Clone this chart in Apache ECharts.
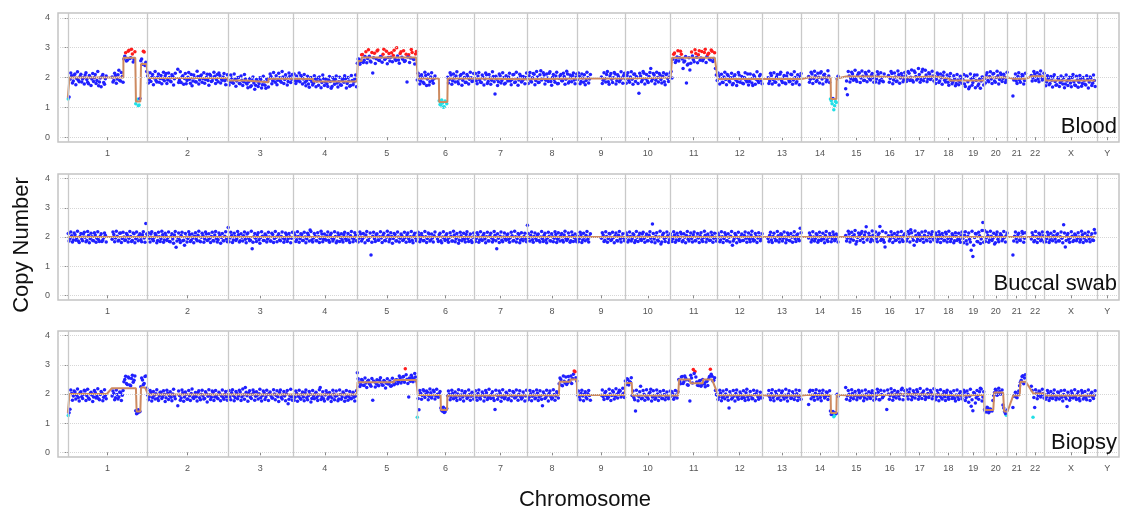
<!DOCTYPE html>
<html>
<head>
<meta charset="utf-8">
<script src="https://cdn.jsdelivr.net/npm/echarts@6/dist/echarts.min.js"></script>
<style>
  html, body { margin: 0; padding: 0; background: #fff; }
  #chart { width: 1125px; height: 512px; }
</style>
</head>
<body>
<div id="chart"></div>
<script>
// chromosome names and widths (Mb, as laid out on the x axis)
const chromNames = ['1','2','3','4','5','6','7','8','9','10','11','12','13','14','15','16','17','18','19','20','21','22','X','Y'];
const chromLen = [234,238,192,189,177,169,156,148,141,135,136,135,115,109,106,91,86,83,64,69,54,55,156,58];
const yTicks = [0, 1, 2, 3, 4];
const panelNames = ['Blood', 'Buccal swab', 'Biopsy'];

// copy number, two probes per ~5 Mb bin (A then B), one list per chromosome (null = no data)
const bloodA = [
  [1.28,1.94,2.06,1.88,2.12,1.97,1.91,2.03,1.85,1.99,2.08,1.93,1.79,2.01,1.95,1.87,2.1,1.9,1.72,1.98,2.04,1.83,1.96,null,null,null,2.02,1.9,2.07,1.95,2.24,1.88,2.03,2.62,2.83,2.58,2.91,2.66,2.79,2.6,1.12,1.27,1.08,2.56,2.44,2.85,2.51],
  [2.05,1.93,1.87,2.1,1.98,1.9,2.02,1.84,2.07,1.95,1.89,2.13,1.92,2.0,1.86,2.04,1.96,null,2.28,1.91,1.83,2.06,1.97,1.79,2.01,1.94,2.1,1.88,1.99,1.85,2.03,1.92,2.08,1.96,1.81,2.0,1.9,2.11,1.87,1.98,2.04,1.93,1.86,2.07,1.95,2.02,1.89,1.97],
  [1.92,1.85,1.98,1.81,1.94,1.88,2.0,1.79,1.91,1.86,1.95,1.78,1.86,1.69,1.9,1.82,1.74,1.88,1.8,1.93,1.76,1.85,1.64,1.87,1.97,2.03,1.89,1.95,2.06,1.91,1.99,1.84,2.02,1.93,1.98,1.87,2.04,1.94],
  [1.98,1.9,2.05,1.93,1.86,2.01,1.95,1.84,1.9,1.78,1.93,1.86,1.81,1.95,1.88,1.74,1.91,1.83,1.97,1.85,1.79,1.92,1.87,1.7,1.89,1.94,1.82,1.86,1.76,1.91,1.84,1.96,1.8,1.88,1.73,1.9,1.85,2.08],
  [2.48,2.61,2.53,2.77,2.58,2.86,2.64,2.71,2.52,2.15,2.81,2.63,2.92,2.57,2.69,2.78,2.6,2.88,2.67,2.55,2.83,2.74,2.62,3.0,2.59,2.8,2.68,2.9,2.56,1.85,2.76,2.65,2.84,2.6,2.79],
  [1.92,2.04,1.88,1.99,1.8,2.07,1.95,1.75,2.02,1.9,1.97,null,null,1.22,1.08,1.15,1.02,1.18,2.01,1.93,2.08,1.89,1.98,2.05,1.86,1.96,2.1,1.91,2.0,1.84,2.03,1.94,1.99,1.88],
  [1.97,1.89,2.05,1.92,1.83,2.0,1.95,2.09,1.87,1.98,1.91,2.03,1.45,1.94,1.86,2.06,1.9,1.99,1.81,1.96,2.02,1.88,1.93,2.1,1.85,1.97,1.92,2.04,1.89,1.95,2.0],
  [1.95,2.06,1.88,1.99,2.11,1.9,2.02,1.84,2.23,1.96,2.08,1.91,1.98,2.14,1.87,2.0,1.93,2.05,1.79,1.97,2.1,1.89,2.03,1.94,2.12,1.86,1.99,2.07,1.92,2.01],
  [1.93,2.04,1.87,1.98,2.09,1.9,2.0,1.95,null,null,null,null,null,null,2.02,1.91,1.97,2.1,1.86,2.05,1.94,1.99,2.12,1.89,2.03,1.92,1.98,2.07],
  [1.96,2.07,1.9,2.02,1.94,2.11,1.87,1.99,1.47,2.05,1.92,2.14,1.96,1.88,2.03,2.3,1.95,2.08,1.91,2.0,2.13,1.93,2.04,1.86,2.1,1.97,2.02],
  [2.2,2.61,2.82,2.57,2.9,2.66,2.78,2.3,2.55,1.82,2.45,2.25,2.85,2.6,2.93,2.68,2.76,2.58,2.87,2.63,2.95,2.7,2.81,2.59,2.88,2.64,2.3],
  [1.9,2.06,1.97,1.84,2.02,1.93,2.1,1.88,1.99,1.76,2.04,1.92,1.86,2.08,1.95,1.81,2.0,1.91,2.12,1.87,1.96,1.73,2.03,1.94,1.89,2.05,1.9],
  [null,null,null,1.99,1.88,2.07,1.93,1.85,2.02,1.96,2.11,1.9,1.98,1.82,2.05,1.94,1.87,2.09,1.92,2.0,1.86,1.97,2.03],
  [null,null,null,null,2.03,1.94,2.12,1.97,2.06,1.9,2.01,2.15,1.95,2.08,1.99,1.92,2.05,1.28,1.12,0.92,1.2,1.96],
  [null,null,null,null,1.62,1.42,2.05,1.97,2.12,2.0,1.93,2.08,2.15,1.98,2.04,1.91,2.1,2.02,1.95,2.07,1.99],
  [2.04,1.95,2.1,1.9,2.0,1.86,null,null,2.07,1.97,2.13,1.92,2.02,1.88,2.09,1.98,2.05,1.93],
  [2.06,1.96,2.14,2.01,1.9,2.22,2.03,1.97,2.1,1.93,2.28,2.0,2.08,1.95,2.12,1.99,2.05],
  [2.03,1.94,2.1,1.88,1.99,2.06,1.91,1.97,1.84,2.02,1.9,1.86,1.95,1.8,1.92,1.87,1.97],
  [1.93,1.78,2.05,1.86,1.68,1.97,1.83,2.08,1.9,1.72,1.95,1.88,2.01],
  [1.97,2.08,1.9,2.03,1.95,2.12,1.88,2.0,2.06,1.93,2.1,1.97,2.02,1.91],
  [null,null,null,1.38,1.97,1.88,2.04,1.92,1.99,2.06,1.9],
  [null,null,null,2.07,1.98,2.12,2.03,1.95,2.09,2.01,1.94],
  [1.93,1.85,1.97,1.8,1.91,2.02,1.87,1.76,1.95,1.83,1.9,1.99,1.78,1.88,1.94,1.82,2.0,1.86,1.73,1.92,1.84,1.96,1.8,1.89,1.75,1.93,1.85,1.98,1.81,1.9,null],
  []
];
const bloodB = [
  [1.35,2.15,1.82,2.08,1.76,2.19,1.86,2.11,1.95,1.78,2.16,1.84,2.07,1.73,2.13,1.99,1.8,2.2,1.85,1.69,2.1,1.77,2.05,null,null,null,1.85,2.14,1.81,2.09,1.9,2.17,1.84,2.71,2.55,2.88,2.64,2.95,2.52,2.86,1.25,1.05,1.3,2.62,2.88,2.4,2.2],
  [1.82,2.16,2.01,1.76,2.2,1.85,2.12,1.97,1.79,2.18,2.06,1.8,2.15,1.88,2.09,1.75,2.14,null,1.83,2.19,2.02,1.77,2.13,1.9,2.17,1.81,1.72,2.08,1.86,2.21,1.78,2.05,1.84,2.16,1.93,2.11,1.74,2.07,1.89,2.18,1.8,2.1,2.15,1.82,1.91,2.13,1.76,2.09],
  [1.75,2.08,1.83,2.12,1.71,1.99,1.8,2.05,1.73,2.1,1.82,1.66,1.97,1.72,2.02,1.61,1.93,1.7,1.99,1.65,2.04,1.74,1.95,1.68,2.12,1.79,2.17,1.84,1.76,2.14,1.88,2.2,1.8,2.09,1.75,2.15,1.83,2.1],
  [2.12,1.8,1.88,2.15,2.07,1.78,2.1,1.72,2.04,1.67,2.0,1.75,2.06,1.69,1.98,2.02,1.66,2.08,1.73,1.95,1.7,2.03,1.64,1.99,1.77,2.05,1.68,2.01,1.74,1.97,2.06,1.65,2.0,1.71,2.07,1.76,1.95,1.69],
  [2.62,2.44,2.76,2.5,2.7,2.49,2.93,2.55,2.84,2.66,2.47,2.89,2.58,2.7,2.51,2.95,2.64,2.46,2.8,2.68,2.53,2.91,2.57,2.72,2.48,2.86,2.61,2.54,2.78,2.69,2.5,2.94,2.63,2.45,2.87],
  [2.14,1.78,2.09,1.84,2.18,1.73,2.11,1.86,2.16,1.81,2.05,null,null,1.1,1.25,1.0,1.21,1.12,1.82,2.16,1.77,2.12,1.85,2.19,1.79,2.07,1.74,2.15,1.83,2.1,1.78,2.18,1.87,2.13],
  [2.13,1.79,2.17,1.84,2.08,1.75,2.15,1.8,2.1,1.77,2.19,1.86,2.04,1.73,2.12,1.82,2.16,1.78,2.06,1.88,2.14,1.76,2.09,1.83,2.18,1.74,2.11,1.85,2.03,1.79,2.15],
  [1.8,2.17,1.85,2.13,1.76,2.2,1.83,2.09,1.92,2.16,1.78,2.12,1.87,2.19,1.74,2.1,1.84,2.18,1.8,2.06,1.89,2.14,1.77,2.21,1.82,2.08,1.86,2.15,1.79,2.12],
  [2.15,1.79,2.12,1.84,1.76,2.18,1.82,2.1,null,null,null,null,null,null,1.8,2.16,1.85,2.2,1.77,2.13,1.83,2.17,1.78,2.09,1.86,2.19,1.81,2.14],
  [1.81,2.16,1.84,2.19,1.77,2.12,2.03,1.8,2.14,1.86,2.2,1.78,2.1,1.83,2.17,1.88,2.13,1.79,2.18,1.85,2.08,1.82,2.16,1.76,2.12,1.87,2.15],
  [1.98,2.78,2.5,2.69,2.55,2.88,2.62,2.52,2.7,2.42,2.66,2.48,2.72,2.53,2.8,2.49,2.9,2.65,2.56,2.84,2.5,2.77,2.61,2.92,2.54,2.83,2.08],
  [2.15,1.78,2.11,1.83,2.18,1.76,2.06,1.85,2.14,1.8,2.09,1.73,2.17,1.84,2.03,1.79,2.16,1.86,1.75,2.12,1.82,2.08,1.77,2.19,1.83,2.1,1.79],
  [null,null,null,1.8,2.14,1.78,2.16,1.84,2.1,1.75,2.18,1.83,2.07,1.79,2.15,1.86,2.11,1.77,2.19,1.82,2.09,1.76,2.13],
  [null,null,null,null,1.84,2.18,1.8,2.21,1.87,2.14,1.82,2.19,1.78,2.11,1.86,2.23,1.83,1.22,1.3,1.05,1.16,2.04],
  [null,null,null,null,1.88,2.2,1.85,2.18,1.91,2.24,1.87,2.15,1.83,2.22,1.9,2.17,1.86,2.21,1.92,2.13,1.84],
  [1.85,2.19,1.82,2.16,1.88,2.12,null,null,1.84,2.2,1.79,2.15,1.87,2.22,1.81,2.13,1.86,2.17],
  [1.87,2.2,1.9,2.25,1.85,2.17,1.92,2.3,1.84,2.19,1.89,2.24,1.86,2.16,1.93,2.21,1.88],
  [1.8,2.15,1.83,2.12,1.77,2.18,1.85,2.08,1.74,2.13,1.79,2.06,1.72,2.1,1.76,2.04,1.81],
  [2.1,1.7,2.04,1.62,2.12,1.74,2.0,1.66,2.08,1.78,1.64,2.02,1.75],
  [1.82,2.16,1.86,2.19,1.8,2.13,1.84,2.21,1.78,2.15,1.87,2.11,1.83,2.18],
  [null,null,null,1.92,2.12,1.8,2.16,1.84,2.1,1.78,2.14],
  [null,null,null,1.88,2.2,1.9,2.16,1.86,2.22,1.92,2.14],
  [1.72,2.06,1.76,2.03,1.68,2.09,1.74,1.99,1.7,2.05,1.78,1.66,2.08,1.73,2.01,1.69,2.1,1.75,2.04,1.67,2.07,1.71,2.0,1.77,2.06,1.65,2.02,1.73,2.08,1.7,null],
  []
];

const buccalA = [
  [2.12,1.95,2.04,1.9,2.08,1.97,1.86,2.02,1.93,2.1,1.99,1.88,2.05,1.94,2.01,1.87,2.07,1.96,1.91,2.03,1.85,1.98,2.06,null,null,null,1.92,2.09,1.97,2.03,1.89,2.14,1.95,2.0,1.9,2.07,1.96,2.02,1.88,2.11,1.94,1.99,2.05,1.91,2.08,1.97,2.46],
  [2.03,1.96,2.1,1.92,1.99,2.06,1.88,2.01,1.94,2.08,1.9,2.04,1.97,1.85,2.02,1.93,2.07,1.65,1.98,1.91,2.05,1.87,1.72,2.0,1.95,2.09,1.89,1.97,2.03,1.92,2.06,1.86,1.99,2.04,1.93,2.1,1.9,1.96,2.02,1.88,2.07,1.95,1.91,2.05,1.98,1.87,2.03,1.94],
  [2.33,1.97,2.05,1.9,2.02,1.94,2.08,1.87,1.99,2.04,1.92,2.1,1.95,1.89,1.6,2.01,1.96,2.07,1.91,1.98,2.03,1.88,2.06,1.93,2.0,1.86,2.09,1.95,1.99,2.04,1.9,2.02,1.97,1.92,2.08,1.94,2.01,1.96],
  [1.98,2.05,1.91,2.02,1.95,2.09,1.88,2.0,1.94,2.06,2.24,1.9,1.97,2.03,1.87,2.01,1.95,2.1,1.92,1.99,2.04,1.89,2.07,1.96,1.93,2.02,1.86,2.05,1.98,1.91,2.08,1.95,2.0,1.9,2.04,1.97,1.93,2.06],
  [2.04,1.96,2.1,1.93,2.0,2.07,1.89,1.98,1.38,2.03,1.94,2.08,1.9,2.01,1.97,2.05,1.88,1.99,2.06,1.92,2.02,1.95,2.09,1.87,2.0,1.96,2.04,1.91,1.98,2.07,1.93,2.01,1.89,2.05,1.97],
  [1.99,2.06,1.92,2.03,1.88,2.01,1.95,2.1,1.9,1.97,2.04,null,1.93,2.08,1.87,2.0,1.96,2.05,1.91,1.98,2.03,1.86,2.07,1.94,2.0,1.89,2.04,1.97,1.92,2.09,1.95,2.01,1.88,1.99],
  [2.02,1.95,2.08,1.9,1.99,2.05,1.93,2.01,1.87,2.04,1.97,1.91,2.06,1.6,1.96,2.03,1.89,2.0,1.94,2.07,1.92,1.98,2.04,1.88,2.01,1.95,2.09,1.9,1.97,2.02,1.93],
  [2.4,1.98,2.05,1.91,2.02,1.95,2.08,1.88,2.0,1.94,2.06,1.9,1.97,2.03,1.86,2.01,1.96,2.09,1.92,1.99,2.04,1.89,2.07,1.95,1.93,2.02,1.87,2.05,1.98,1.91],
  [2.03,1.94,2.08,1.9,1.99,2.05,1.92,2.01,null,null,null,null,null,null,1.96,2.07,1.89,2.02,1.95,2.1,1.91,1.98,2.04,1.88,2.06,1.93,2.0,1.97],
  [1.97,2.05,1.9,2.02,1.94,2.08,1.88,1.99,2.04,1.92,2.1,1.95,2.01,1.87,2.06,1.96,2.45,1.93,2.03,1.89,2.0,1.76,2.07,1.95,1.98,2.04,1.91],
  [2.01,1.94,2.07,1.9,2.03,1.96,2.1,1.88,1.99,2.05,1.92,2.02,1.95,2.08,1.87,2.0,1.97,2.04,1.91,1.98,2.06,1.93,2.01,1.89,2.05,1.96,1.99],
  [1.96,2.04,1.9,2.01,1.95,2.08,1.87,1.99,2.03,1.72,1.93,2.06,1.98,1.91,2.02,1.88,2.05,1.96,2.0,1.92,2.07,1.94,1.89,2.03,1.97,2.01,1.93],
  [null,null,null,1.95,2.06,1.9,2.02,1.97,1.88,2.04,1.93,2.09,1.96,2.0,1.91,2.05,1.87,1.99,2.03,1.94,2.07,1.92,2.3],
  [null,null,null,null,1.97,2.04,1.91,2.0,1.95,2.07,1.89,2.02,1.96,1.93,2.05,1.9,1.99,2.03,1.94,2.08,1.92,2.01],
  [null,null,null,null,2.05,1.96,2.1,1.93,2.02,2.08,1.76,1.98,2.04,2.12,1.95,2.07,2.35,1.99,2.03,1.92,2.06],
  [2.02,1.95,2.08,2.36,1.97,1.9,1.66,null,2.04,1.93,2.07,1.98,1.88,2.05,1.96,2.01,1.91,2.06],
  [2.03,1.96,2.1,2.25,1.99,1.72,2.05,1.93,2.08,2.0,1.95,2.06,1.9,2.02,1.97,2.09,1.94],
  [1.98,2.05,1.92,2.08,1.96,2.02,1.89,2.1,1.95,2.0,1.93,2.06,1.87,2.03,1.97,1.91,2.04],
  [1.95,2.06,1.87,2.02,1.92,1.55,1.33,1.98,2.1,1.84,2.04,1.93,2.5],
  [2.22,1.97,2.05,1.9,2.03,1.96,1.76,2.08,1.92,2.01,2.06,1.94,1.99,2.04],
  [null,null,null,1.38,2.03,1.94,2.08,1.9,2.0,2.12,1.96],
  [null,null,null,1.93,2.05,1.88,2.02,1.96,2.09,1.91,2.04],
  [2.02,1.95,2.07,1.9,1.99,2.04,1.93,2.08,1.87,2.01,1.96,2.42,1.66,2.05,1.92,1.98,2.03,1.89,2.06,1.95,2.0,1.91,2.08,1.97,1.88,2.04,1.94,2.01,1.9,2.26,null],
  []
];
const buccalB = [
  [1.86,2.17,1.83,2.14,1.89,2.2,1.81,2.12,1.87,2.16,1.84,2.19,1.8,2.13,1.88,2.15,1.82,2.18,1.85,2.11,1.9,2.14,1.83,null,null,null,2.17,1.84,2.2,1.86,2.13,1.81,2.16,1.88,2.12,1.83,2.19,1.85,2.14,1.8,2.17,1.87,2.11,1.84,2.18,1.82,2.1],
  [2.15,1.83,2.18,1.87,2.12,1.8,2.16,1.85,2.2,1.82,2.13,1.88,2.17,1.84,2.11,1.79,2.19,1.86,2.14,1.81,2.16,1.89,2.12,1.83,2.18,1.85,2.1,1.8,2.15,1.87,2.2,1.84,2.13,1.82,2.17,1.88,2.11,1.81,2.16,1.86,2.19,1.83,2.14,1.79,2.12,1.87,2.18,1.84],
  [1.84,2.16,1.81,2.13,1.88,2.19,1.83,2.11,1.86,2.17,1.8,2.14,1.87,2.2,1.82,2.12,1.85,2.15,1.79,2.18,1.88,2.1,1.83,2.16,1.86,2.13,1.81,2.19,1.84,2.11,1.87,2.17,1.82,2.14,1.85,2.12,1.8,2.16],
  [2.14,1.85,2.18,1.82,2.11,1.88,2.16,1.8,2.13,1.86,2.19,1.83,2.12,1.87,2.15,1.81,2.2,1.84,2.1,1.89,2.17,1.82,2.13,1.86,2.18,1.8,2.14,1.85,2.11,1.83,2.16,1.88,2.12,1.81,2.19,1.84,2.15,1.87],
  [1.83,2.17,1.86,2.12,1.8,2.19,1.88,2.14,1.82,2.16,1.85,2.11,1.89,2.18,1.81,2.13,1.87,2.2,1.84,2.15,1.79,2.12,1.86,2.17,1.83,2.1,1.88,2.16,1.82,2.14,1.85,2.19,1.8,2.13,1.87],
  [2.16,1.84,2.12,1.87,2.19,1.81,2.14,1.86,2.1,1.83,2.17,null,1.85,2.13,1.8,2.18,1.88,2.11,1.82,2.15,1.86,2.2,1.84,2.12,1.79,2.16,1.87,2.13,1.83,2.18,1.85,2.1,1.81,2.14],
  [1.85,2.15,1.82,2.18,1.88,2.12,1.8,2.16,1.86,2.13,1.83,2.19,1.87,2.11,1.81,2.17,1.84,2.14,1.89,2.1,1.82,2.16,1.86,2.2,1.83,2.12,1.8,2.15,1.87,2.13,1.84],
  [2.12,1.86,2.17,1.82,2.14,1.88,2.1,1.83,2.19,1.85,2.13,1.8,2.16,1.87,2.11,1.84,2.18,1.81,2.15,1.86,2.12,1.83,2.2,1.88,2.14,1.82,2.17,1.85,2.1,1.84],
  [1.84,2.16,1.81,2.13,1.87,2.19,1.83,2.11,null,null,null,null,null,null,2.15,1.85,2.18,1.82,2.12,1.88,2.16,1.8,2.14,1.86,2.19,1.83,2.11,1.87],
  [2.14,1.83,2.17,1.86,2.11,1.81,2.19,1.85,2.13,1.88,2.16,1.82,2.1,1.87,2.18,1.84,2.12,1.8,2.15,1.86,2.2,1.83,2.13,1.85,2.17,1.81,2.11],
  [1.85,2.18,1.82,2.13,1.88,2.16,1.84,2.11,1.8,2.19,1.86,2.14,1.83,2.17,1.87,2.12,1.81,2.15,1.85,2.2,1.83,2.1,1.88,2.16,1.82,2.13,1.86],
  [2.13,1.84,2.18,1.81,2.15,1.87,2.11,1.83,2.19,1.86,2.12,1.8,2.16,1.85,2.1,1.88,2.17,1.82,2.14,1.84,2.2,1.86,2.12,1.81,2.15,1.87,2.11],
  [null,null,null,1.84,2.16,1.81,2.13,1.87,2.19,1.83,2.11,1.86,2.17,1.8,2.14,1.88,2.12,1.82,2.18,1.85,2.1,1.87,2.15],
  [null,null,null,null,2.14,1.83,2.18,1.86,2.11,1.82,2.16,1.88,2.13,1.8,2.19,1.85,2.12,1.84,2.17,1.87,2.1,1.83],
  [null,null,null,null,1.86,2.2,1.83,2.16,1.89,2.22,1.85,2.14,1.88,2.19,1.82,2.17,1.9,2.13,1.84,2.21,1.87],
  [2.17,1.84,2.13,1.88,2.2,1.82,2.15,null,1.86,2.18,1.81,2.12,1.89,2.16,1.83,2.19,1.85,2.11],
  [1.86,2.19,1.83,2.15,1.89,2.21,1.85,2.13,1.88,2.17,1.82,2.2,1.87,2.14,1.84,2.18,1.9],
  [2.14,1.84,2.18,1.81,2.12,1.87,2.16,1.83,2.2,1.85,2.11,1.8,2.15,1.88,2.13,1.82,2.17],
  [1.8,2.18,1.76,2.14,1.83,2.2,1.72,2.12,1.85,2.16,1.78,2.22,1.82],
  [1.85,2.16,1.82,2.2,1.88,2.13,1.8,2.17,1.84,2.11,1.87,2.19,1.83,2.14],
  [null,null,null,1.86,2.17,1.83,2.13,1.88,2.19,1.82,2.15],
  [null,null,null,2.15,1.84,2.19,1.81,2.13,1.87,2.17,1.83],
  [1.84,2.16,1.81,2.13,1.87,2.19,1.83,2.11,1.86,2.17,1.8,2.14,1.88,2.12,1.82,2.18,1.85,2.1,1.87,2.15,1.83,2.2,1.81,2.13,1.86,2.17,1.84,2.11,1.88,2.14,null],
  []
];

const biopsyA = [
  [1.26,1.48,2.02,1.93,2.07,1.96,1.88,2.04,1.91,1.99,2.1,1.94,1.86,2.01,1.97,1.9,2.05,1.92,1.84,1.98,2.03,1.89,1.95,null,null,null,1.93,2.02,1.87,1.98,1.9,2.05,1.96,2.42,2.61,2.33,2.55,2.28,2.64,2.47,1.43,1.35,1.38,2.25,2.48,2.36,2.62],
  [1.97,1.9,2.05,1.88,1.96,2.01,1.85,1.93,2.06,1.91,1.99,1.87,2.03,1.94,1.89,2.0,1.92,null,1.6,1.95,1.86,2.04,1.9,1.98,1.83,1.94,2.02,1.88,1.96,1.91,2.05,1.87,1.99,1.93,1.85,2.01,1.92,1.97,1.89,2.06,1.9,1.95,1.84,2.0,1.93,1.88,1.98,1.91],
  [1.98,1.91,2.04,1.95,1.88,2.02,1.93,2.07,1.9,1.97,2.22,1.94,2.03,1.89,1.99,2.06,1.92,1.96,2.01,1.87,1.95,2.04,1.9,1.98,2.02,1.93,1.86,2.0,1.95,1.91,2.05,1.88,1.97,1.93,2.01,1.67,1.94,1.9],
  [1.95,1.89,2.02,1.92,1.86,1.98,1.9,2.04,1.87,1.94,1.99,1.85,1.93,2.01,1.88,1.96,2.22,1.91,1.84,1.97,2.03,1.89,1.93,1.86,2.0,1.92,1.95,1.83,1.98,1.9,2.02,1.87,1.94,1.91,1.85,1.97,1.89,1.93],
  [2.73,2.41,2.33,2.46,2.29,2.38,2.44,2.35,2.27,1.79,2.42,2.36,2.31,2.47,2.39,2.3,2.43,2.37,2.34,2.45,2.28,2.4,2.36,2.49,2.42,2.55,2.46,2.6,2.87,2.51,1.9,2.44,2.57,2.5,2.58],
  [1.2,1.46,2.03,1.95,2.1,1.98,2.06,1.92,2.04,1.96,2.08,1.93,1.99,2.01,1.52,1.41,1.37,1.47,1.94,1.99,1.9,2.02,1.95,1.88,2.0,1.93,1.97,1.9,2.03,1.94,1.89,1.98,1.92,1.96],
  [1.96,1.9,2.02,1.87,1.95,1.99,1.91,2.04,1.88,1.94,2.0,1.86,1.47,1.97,1.92,2.03,1.89,1.95,1.9,2.01,1.85,1.96,1.93,2.05,1.88,1.94,1.99,1.91,1.87,1.97,1.93],
  [1.95,1.89,2.01,1.92,1.97,1.86,2.03,1.9,1.94,1.6,1.99,1.88,1.96,2.02,1.91,1.87,1.98,1.93,2.0,2.35,2.5,2.28,2.44,2.58,2.39,2.47,2.62,2.53,2.79,2.56],
  [1.97,1.9,2.03,1.93,1.99,1.88,2.01,1.95,null,null,null,null,null,null,1.96,1.91,2.04,1.94,1.89,2.0,1.95,2.07,1.92,1.98,2.05,2.1,1.97,2.03],
  [2.45,2.52,2.31,2.4,1.95,1.88,1.42,1.97,1.91,2.27,1.86,1.99,1.93,1.89,2.02,2.16,1.9,1.95,1.87,2.0,1.92,1.96,1.85,1.98,1.91,1.94,1.89],
  [1.93,2.0,1.9,1.97,2.08,2.44,2.58,2.36,2.62,2.49,2.3,1.76,2.55,2.84,2.77,2.41,2.29,2.46,2.33,2.38,2.25,2.44,2.52,2.85,2.61,2.47,2.12],
  [1.96,1.9,2.03,1.88,1.95,2.0,1.91,1.52,1.97,1.86,1.93,2.02,1.89,1.95,1.99,1.92,1.87,2.04,1.9,1.96,1.93,1.85,1.98,2.01,1.91,1.94,1.88],
  [null,null,null,1.97,1.9,2.02,1.88,1.95,1.99,1.86,1.93,2.04,1.91,1.96,1.89,2.0,1.94,1.87,1.98,1.92,2.01,1.9,1.95],
  [null,null,null,null,1.64,2.13,1.96,1.9,2.03,1.93,1.98,1.88,2.01,1.95,1.91,2.05,1.94,1.42,1.31,1.22,1.36,1.99],
  [null,null,null,null,2.22,1.94,1.99,1.88,2.02,1.93,1.97,1.9,2.04,1.92,1.96,1.87,2.0,1.95,1.91,2.03,1.93],
  [2.02,1.95,2.06,1.8,1.98,1.92,null,1.47,2.0,1.94,2.05,1.9,1.97,2.03,1.93,1.99,2.2,1.96],
  [2.0,1.93,2.06,1.96,1.9,2.03,1.98,2.08,1.92,1.99,2.04,1.95,1.89,2.02,1.97,2.05,1.94],
  [1.96,1.9,2.02,1.93,1.87,1.98,1.91,2.04,1.88,1.95,2.0,1.92,1.85,1.97,1.9,2.01,1.93],
  [1.97,2.06,1.88,1.99,1.92,1.58,1.43,2.02,1.87,1.95,2.08,2.17,1.9],
  [1.47,1.38,1.52,1.41,1.45,1.78,2.05,2.12,1.98,2.09,2.01,1.62,1.4,1.27],
  [null,null,null,1.54,1.96,1.9,2.0,2.28,2.47,2.63,2.55],
  [null,null,null,2.27,1.2,1.54,2.03,1.95,2.08,1.97,2.02],
  [1.97,1.9,2.03,1.86,1.95,2.0,1.92,1.88,2.05,1.94,1.89,1.98,1.91,1.57,1.96,1.87,2.02,1.93,1.9,1.99,1.85,1.95,2.04,1.91,1.88,1.97,1.93,2.01,1.9,1.96,null],
  []
];
const biopsyB = [
  [1.36,2.14,1.79,2.1,1.83,2.17,1.76,2.08,1.85,2.13,1.78,2.16,1.82,2.06,1.74,2.12,1.86,2.18,1.8,2.09,1.77,2.15,1.84,null,null,null,2.1,1.8,2.14,1.83,2.07,1.78,2.12,2.5,2.36,2.58,2.31,2.53,2.4,2.62,1.32,1.46,1.4,2.55,2.32,2.6,2.2],
  [1.8,2.12,1.76,2.09,1.83,2.15,1.78,2.06,1.85,2.11,1.74,2.13,1.81,2.08,1.77,2.16,1.84,null,2.1,1.79,2.14,1.75,2.07,1.82,2.12,1.78,2.17,1.85,2.05,1.76,2.11,1.8,2.13,1.83,2.08,1.73,2.15,1.81,2.1,1.78,2.12,1.86,2.06,1.77,2.14,1.82,2.09,1.79],
  [2.12,1.8,2.15,1.77,2.09,1.84,2.13,1.78,2.17,1.82,2.06,1.75,2.11,1.85,2.14,1.79,2.08,1.83,2.16,1.76,2.1,1.81,2.13,1.78,2.07,1.86,2.15,1.8,2.11,1.74,2.14,1.83,2.09,1.77,2.12,1.82,2.16,1.79],
  [1.79,2.1,1.75,2.13,1.82,2.07,1.77,2.14,1.8,2.09,1.73,2.12,1.84,2.06,1.78,2.15,1.81,2.08,1.76,2.11,1.83,2.05,1.74,2.13,1.8,2.1,1.77,2.14,1.82,2.07,1.75,2.12,1.79,2.09,1.84,2.06,1.76,2.11],
  [2.52,2.26,2.5,2.3,2.55,2.22,2.47,2.33,2.53,2.45,2.24,2.49,2.28,2.56,2.31,2.46,2.21,2.52,2.35,2.27,2.54,2.32,2.48,2.35,2.62,2.38,2.58,2.4,2.66,2.36,2.55,2.64,2.42,2.7,2.45],
  [1.85,2.12,1.82,2.15,1.88,2.1,1.8,2.17,1.86,2.13,1.83,2.16,1.89,2.09,1.44,1.55,1.39,1.5,2.1,1.8,2.13,1.84,2.07,1.78,2.15,1.82,2.11,1.76,2.09,1.85,2.14,1.79,2.06,1.83],
  [2.11,1.79,2.14,1.83,2.07,1.76,2.12,1.81,2.16,1.85,2.08,1.78,2.13,1.82,2.1,1.75,2.15,1.84,2.06,1.8,2.12,1.77,2.09,1.86,2.14,1.79,2.11,1.83,2.07,1.76,2.13],
  [1.8,2.12,1.77,2.09,1.84,2.14,1.78,2.11,1.82,2.07,1.85,2.13,1.76,2.1,1.83,2.15,1.79,2.08,1.86,2.55,2.3,2.62,2.38,2.33,2.6,2.42,2.36,2.68,2.76,2.45],
  [2.1,1.8,2.13,1.77,2.08,1.84,2.12,1.79,null,null,null,null,null,null,2.14,1.81,2.09,1.85,2.16,1.78,2.11,1.83,2.18,1.86,2.13,1.9,2.2,1.88],
  [2.33,2.5,2.42,2.56,2.1,1.8,2.13,1.77,2.08,1.84,2.12,1.79,2.15,1.83,2.06,1.76,2.11,1.82,2.14,1.78,2.09,1.85,2.12,1.8,2.07,1.84,2.1],
  [2.08,1.82,2.12,1.86,2.5,2.35,2.6,2.42,2.55,2.32,2.47,2.64,2.38,2.7,2.58,2.3,2.45,2.27,2.5,2.34,2.42,2.29,2.6,2.68,2.45,2.56,1.98],
  [1.81,2.13,1.77,2.1,1.84,2.15,1.79,2.08,1.83,2.12,1.76,2.14,1.82,2.07,1.85,2.11,1.78,2.16,1.8,2.09,1.84,2.13,1.77,2.1,1.82,2.06,1.86],
  [null,null,null,2.12,1.8,2.15,1.77,2.09,1.84,2.13,1.79,2.1,1.83,2.16,1.76,2.11,1.85,2.08,1.81,2.14,1.78,2.12,1.82],
  [null,null,null,null,2.08,1.84,2.12,1.79,2.15,1.83,2.1,1.77,2.13,1.86,2.07,1.81,2.11,1.3,1.4,1.26,1.33,1.92],
  [null,null,null,null,1.82,2.12,1.78,2.15,1.84,2.09,1.8,2.13,1.86,2.1,1.77,2.14,1.83,2.08,1.85,2.11,1.79],
  [1.84,2.16,1.8,2.13,1.87,2.1,null,2.14,1.82,2.18,1.79,2.12,1.86,2.09,1.83,2.15,1.8,2.11],
  [2.14,1.83,2.17,1.8,2.11,1.86,2.15,1.82,2.19,1.85,2.1,1.81,2.16,1.88,2.12,1.84,2.18],
  [1.8,2.12,1.77,2.15,1.83,2.09,1.78,2.13,1.82,2.07,1.85,2.11,1.76,2.14,1.81,2.08,1.84],
  [2.13,1.78,2.1,1.72,2.16,1.8,2.05,1.69,2.12,1.82,2.2,1.76,2.08],
  [1.4,1.55,1.36,1.49,1.42,1.95,2.16,1.96,2.2,2.0,2.14,1.52,1.33,1.45],
  [null,null,null,1.92,2.06,1.87,2.1,2.4,2.6,2.35,2.66],
  [null,null,null,2.12,1.88,2.15,1.84,2.1,1.9,2.16,1.86],
  [1.82,2.12,1.78,2.09,1.85,2.14,1.8,2.07,1.83,2.11,1.76,2.13,1.84,2.06,1.79,2.1,1.86,2.15,1.81,2.08,1.77,2.12,1.83,2.09,1.8,2.14,1.78,2.06,1.85,2.11,null],
  []
];

// segmented copy number: [chromosome index, from Mb, to Mb, copy number]
const bloodSegments = [
  [0,0,5,1.33],[0,5,164,2.0],[0,164,199,2.66],[0,201,214,1.2],[0,216,232,2.45],
  [1,3,238,1.98],
  [2,0,55,1.9],[2,55,120,1.84],[2,120,192,1.96],
  [3,0,60,1.95],[3,60,189,1.87],
  [4,3,14,2.55],[4,14,175,2.67],
  [5,3,65,1.97],[5,66,90,1.18],[5,91,169,1.97],
  [6,0,156,1.94],[7,0,148,1.97],[8,0,141,1.97],[9,0,135,2.0],
  [10,4,130,2.66],
  [11,3,135,1.95],[12,18,115,1.95],
  [13,20,86,2.0],[13,87,103,1.28],[13,104,109,1.97],
  [14,23,106,2.03],[15,0,91,2.0],[16,0,86,2.03],
  [17,0,45,1.97],[17,45,83,1.9],
  [18,0,64,1.9],[19,0,69,2.0],[20,18,54,1.96],[21,18,55,2.04],
  [22,3,150,1.9]
];
const buccalSegments = [
  [0,0,232,2.0],[1,0,238,2.0],[2,0,192,2.0],[3,0,189,2.0],[4,0,177,2.0],[5,0,169,2.0],
  [6,0,156,2.0],[7,0,148,2.0],[8,0,141,2.0],[9,0,135,2.0],[10,0,136,2.0],[11,0,135,2.0],
  [12,18,115,2.0],[13,20,109,2.0],[14,23,106,2.0],[15,0,91,2.0],[16,0,86,2.0],[17,0,83,2.0],
  [18,0,64,2.0],[19,0,69,2.0],[20,18,54,2.0],[21,18,55,2.0],[22,3,150,2.0]
];
const biopsySegments = [
  [0,0,5,1.35],[0,5,115,2.0],[0,130,201,2.2],[0,203,214,1.4],[0,216,228,2.22],
  [1,3,238,1.98],[2,0,192,1.98],[3,0,189,1.98],
  [4,2,110,2.4],[4,110,175,2.48],
  [5,3,70,1.97],[5,71,89,1.45],[5,90,169,1.95],
  [6,0,156,1.96],
  [7,0,94,1.96],[7,96,128,2.42],[7,128,147,2.5],
  [8,0,141,1.97],
  [9,1,20,2.38],[9,22,135,1.95],
  [10,0,22,1.95],[10,25,57,2.5],[10,58,95,2.37],[10,96,122,2.5],
  [11,4,135,1.96],[12,18,115,1.95],
  [13,20,86,1.97],[13,87,103,1.35],[13,104,109,1.97],
  [14,23,106,1.96],[15,0,91,1.99],[16,0,86,1.98],[17,0,83,1.95],[18,0,64,1.97],
  [19,1,27,1.45],[19,30,56,2.05],[19,59,69,1.4],
  [20,17,36,1.95],[20,38,54,2.42],
  [21,22,55,2.02],
  [22,3,150,1.95]
];

const chromStart = [];
chromLen.reduce((acc, len, i) => { chromStart[i] = acc; return acc + len; }, 0);
const chromMid = chromLen.map((len, i) => chromStart[i] + len / 2);
const genomeEnd = chromStart[23] + chromLen[23];

// place each bin's value at its genomic position
function binPoints(values, offset) {
  const out = [];
  values.forEach((arr, c) => {
    const step = chromLen[c] / (arr.length || 1);
    arr.forEach((v, j) => {
      if (v !== null) out.push([chromStart[c] + (j + offset) * step, v]);
    });
  });
  return out;
}

function segmentLine(segs) {
  const out = [];
  segs.forEach(s => {
    out.push([chromStart[s[0]] + s[1], s[3]]);
    out.push([chromStart[s[0]] + s[2], s[3]]);
  });
  return out;
}

const panels = [
  { a: bloodA, b: bloodB, segs: bloodSegments, top: 13, height: 129, labelY: 127 },
  { a: buccalA, b: buccalB, segs: buccalSegments, top: 174, height: 126, labelY: 284 },
  { a: biopsyA, b: biopsyB, segs: biopsySegments, top: 331, height: 126, labelY: 443 }
];

const font = '"Liberation Sans", Arial, Helvetica, sans-serif';

const grids = [], xAxes = [], yAxes = [], series = [], graphics = [];
panels.forEach((p, i) => {
  grids.push({
    left: 58, right: 6, top: p.top, height: p.height,
    show: true, borderColor: '#c4c4c4', borderWidth: 1.5, backgroundColor: '#fff'
  });
  xAxes.push({
    type: 'value', gridIndex: i, min: -29, max: genomeEnd + 6,
    axisLine: { show: false },
    axisTick: { show: true, customValues: chromMid, length: 3, lineStyle: { color: '#8a8a8a' } },
    axisLabel: {
      customValues: chromMid, margin: 7, fontSize: 9, color: '#555', fontFamily: font,
      formatter: v => {
        const k = chromMid.findIndex(m => Math.abs(m - v) < 0.01);
        return k >= 0 ? chromNames[k] : '';
      }
    },
    splitLine: { show: false }
  });
  yAxes.push({
    type: 'value', gridIndex: i, min: -0.16, max: 4.16,
    axisLine: { show: false },
    axisTick: { show: true, customValues: yTicks, length: 4, lineStyle: { color: '#8a8a8a' } },
    axisLabel: { customValues: yTicks, margin: 8, fontSize: 9, color: '#555', fontFamily: font },
    splitLine: { show: false }
  });

  const guides = yTicks.map(t => ({ yAxis: t, lineStyle: { type: 'dotted', color: '#d6d6d6', width: 1 } }))
    .concat(chromStart.map(s => ({ xAxis: s, lineStyle: { type: 'solid', color: '#c9c9c9', width: 1.3 } })));

  series.push({
    type: 'scatter', xAxisIndex: i, yAxisIndex: i, data: [], z: 1, silent: true,
    markLine: { silent: true, symbol: ['none', 'none'], label: { show: false }, animation: false, data: guides }
  });
  series.push({
    type: 'scatter', xAxisIndex: i, yAxisIndex: i, z: 3, silent: true,
    symbolSize: 3.5, itemStyle: { opacity: 1 },
    data: binPoints(p.a, 0.25).concat(binPoints(p.b, 0.75))
  });
  series.push({
    type: 'line', xAxisIndex: i, yAxisIndex: i, z: 4, silent: true,
    showSymbol: false, symbol: 'none',
    lineStyle: { color: '#cd8a60', width: 2 },
    data: segmentLine(p.segs)
  });

  graphics.push({
    type: 'text', x: 1117, y: p.labelY, z: 10,
    style: { text: panelNames[i], fill: '#111', font: '22px ' + font, align: 'right', verticalAlign: 'middle' }
  });
});

graphics.push({
  type: 'text', x: 585, y: 500,
  style: { text: 'Chromosome', fill: '#111', font: '22px ' + font, align: 'center', verticalAlign: 'middle' }
});
graphics.push({
  type: 'text', x: 22, y: 245, rotation: Math.PI / 2,
  style: { text: 'Copy Number', fill: '#111', font: '22px ' + font, align: 'center', verticalAlign: 'middle' }
});

const chart = echarts.init(document.getElementById('chart'));
chart.setOption({
  animation: false,
  backgroundColor: '#fff',
  grid: grids,
  xAxis: xAxes,
  yAxis: yAxes,
  visualMap: {
    type: 'piecewise', show: false, dimension: 1, seriesIndex: [1, 4, 7],
    pieces: [
      { max: 1.3, color: '#22dfe6' },
      { min: 1.3, max: 2.73, color: '#2020ff' },
      { min: 2.73, color: '#ff1c1c' }
    ]
  },
  series: series,
  graphic: graphics
});
</script>
</body>
</html>
